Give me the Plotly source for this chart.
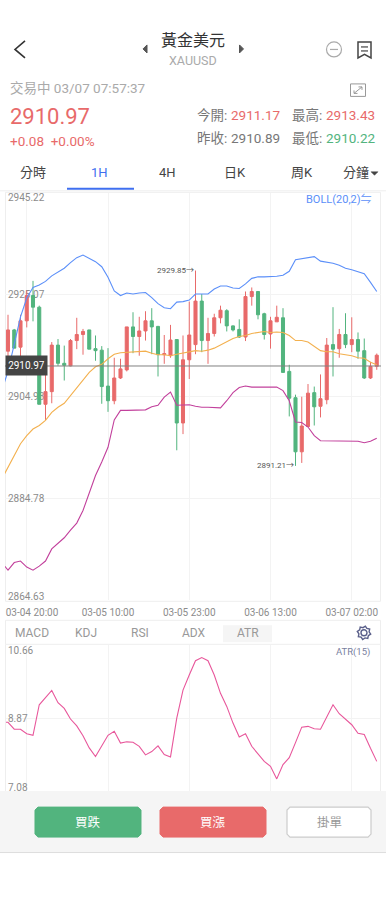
import math
import plotly.graph_objects as go

W, H = 386, 900
FONT = "Roboto, 'Noto Sans CJK TC', sans-serif"
RED, GREEN, BLUE = "#e86a6a", "#52b47e", "#3f6ff0"

candle_idx = list(range(60))
band_idx = list(range(-1, 60))
opens = [2913.9,2918.1,2914.7,2919.9,2924.9,2922.6,2903.4,2905.9,2915.1,2911.5,
         2911.0,2916.0,2917.2,2918.1,2914.4,2914.1,2907.0,2904.1,2908.6,2910.2,
         2918.7,2916.8,2917.9,2919.9,2918.8,2913.2,2913.0,2916.2,2899.7,2912.2,
         2915.2,2923.8,2916.0,2917.4,2920.5,2921.9,2918.9,2918.2,2916.7,2924.7,
         2925.7,2921.3,2917.3,2919.7,2920.5,2909.9,2904.7,2894.0,2899.0,2905.7,
         2903.0,2904.3,2915.2,2914.4,2917.2,2915.2,2916.2,2914.0,2908.6,2910.9]
highs = [2921.1,2918.3,2921.1,2925.9,2927.8,2922.9,2912.0,2915.7,2916.3,2915.0,
         2916.3,2920.5,2918.3,2918.1,2917.0,2914.9,2914.5,2912.6,2912.4,2918.7,
         2921.6,2920.7,2921.8,2922.4,2918.9,2917.1,2919.1,2916.3,2917.0,2923.7,
         2929.85,2925.2,2920.5,2921.3,2922.9,2922.2,2919.0,2920.2,2925.7,2926.5,
         2925.7,2921.5,2920.7,2922.9,2922.4,2911.2,2905.3,2904.9,2907.4,2906.9,
         2909.3,2916.5,2922.6,2918.3,2921.4,2920.6,2917.6,2916.4,2911.8,2913.43]
lows = [2912.6,2914.5,2912.7,2918.6,2919.8,2903.4,2900.3,2903.6,2911.0,2908.1,
        2910.9,2914.3,2913.2,2914.3,2912.0,2903.5,2901.9,2903.4,2908.4,2909.9,
        2913.5,2913.0,2916.0,2913.3,2908.9,2911.4,2912.6,2894.3,2897.5,2908.4,
        2913.3,2913.7,2911.4,2916.8,2919.4,2917.8,2917.8,2916.5,2915.9,2922.9,
        2920.2,2916.2,2914.4,2919.7,2909.7,2901.0,2891.21,2891.8,2899.0,2899.2,
        2900.8,2903.4,2908.9,2912.6,2914.5,2913.7,2912.4,2908.4,2908.4,2910.22]
closes = [2918.1,2914.5,2919.9,2924.9,2922.6,2903.4,2905.9,2915.1,2911.5,2911.1,
          2916.0,2917.2,2917.8,2914.3,2914.0,2906.9,2904.1,2908.6,2910.4,2918.7,
          2916.8,2917.9,2919.9,2918.7,2913.2,2913.4,2916.1,2899.7,2912.2,2917.1,
          2923.8,2916.0,2917.4,2920.5,2922.0,2918.9,2918.1,2916.7,2924.7,2925.7,
          2921.1,2917.2,2919.9,2920.6,2909.7,2904.6,2894.0,2899.1,2905.6,2902.9,
          2904.5,2915.1,2914.3,2917.2,2915.2,2916.2,2913.9,2908.6,2910.9,2913.1]
boll_upper = [2906.1,2909.9,2915.3,2920.7,2924.4,2926.5,2927.0,2927.7,2928.8,2929.6,2930.3,
              2931.4,2932.4,2932.9,2932.3,2931.6,2930.6,2928.5,2925.8,2924.9,2925.4,
              2925.2,2925.4,2925.5,2924.5,2923.3,2922.5,2922.3,2923.6,2923.7,2924.0,
              2925.2,2925.2,2925.2,2926.2,2926.8,2926.8,2926.4,2926.3,2927.2,2928.3,
              2928.6,2928.6,2928.6,2928.7,2928.9,2929.7,2932.0,2932.2,2932.4,2932.6,
              2931.7,2931.5,2931.3,2930.9,2930.3,2930.0,2929.6,2929.2,2927.5,2925.7]
boll_mid = [2888.6,2890.9,2893.2,2895.6,2897.2,2898.5,2899.2,2900.2,2901.8,2902.8,2903.6,
            2905.1,2906.6,2908.2,2909.7,2910.8,2911.3,2912.4,2913.3,2913.6,2913.7,
            2913.8,2913.9,2913.9,2913.5,2913.2,2913.2,2913.0,2913.3,2913.5,2913.7,
            2914.0,2913.9,2914.1,2914.5,2915.1,2915.7,2916.4,2916.8,2917.0,2917.4,
            2917.6,2917.8,2917.6,2917.7,2917.6,2917.0,2916.0,2916.0,2915.7,2914.9,
            2914.0,2913.8,2913.8,2913.4,2913.2,2913.0,2912.6,2912.5,2911.7,2911.2]
boll_lower = [2872.1,2870.6,2872.1,2872.4,2871.2,2870.6,2871.4,2872.4,2874.8,2876.0,2877.0,
              2878.5,2879.9,2882.4,2886.0,2889.3,2892.0,2894.9,2900.3,2902.2,2902.2,
              2902.2,2902.2,2902.3,2902.9,2903.2,2904.8,2905.8,2903.2,2903.2,2903.3,
              2903.0,2902.8,2902.8,2902.8,2902.7,2904.1,2905.7,2906.7,2907.0,2906.8,
              2906.8,2906.8,2906.8,2906.8,2906.1,2904.1,2899.9,2899.8,2898.9,2897.2,
              2896.2,2896.2,2896.1,2896.2,2896.2,2896.2,2896.1,2895.8,2896.1,2896.7]
atr_values = [8.77,8.77,8.60,8.60,8.49,8.45,9.20,9.37,9.55,9.25,9.11,
              8.85,8.68,8.44,8.14,7.93,8.18,8.45,8.55,8.26,8.29,
              8.28,8.18,7.97,8.05,8.19,7.98,7.92,8.87,9.56,9.93,
              10.28,10.36,10.28,9.93,9.48,9.16,8.75,8.41,8.49,8.18,
              7.98,7.81,7.69,7.38,7.73,7.90,8.27,8.65,8.67,8.61,
              8.60,8.91,9.20,8.98,8.85,8.71,8.50,8.47,8.13,7.81]

price_ticks = [2945.22, 2925.07, 2904.93, 2884.78, 2864.63]
atr_ticks = [10.66, 8.87, 7.08]
time_labels = ["03-04 20:00", "03-05 10:00", "03-05 23:00", "03-06 13:00", "03-07 02:00"]
time_idx = [3, 16, 29, 42, 55]
last_price = 2910.97
peak_high, peak_idx = 2929.85, 30
trough_low, trough_idx = 2891.21, 46

def px(x): return x / W
def py(y): return 1 - y / H
def path(*cmds):
    out = []
    for c in cmds:
        if isinstance(c, str):
            out.append(c)
        else:
            out.append(f"{px(c[0]):.5f},{py(c[1]):.5f}")
    return " ".join(out)

shapes, annots = [], []

def rect(x0, y0, x1, y1, fill=None, line=None, lw=1, layer="below"):
    shapes.append(dict(type="rect", xref="paper", yref="paper", x0=px(x0), x1=px(x1), y0=py(y0), y1=py(y1),
                       fillcolor=fill or "rgba(0,0,0,0)", line=dict(color=line or "rgba(0,0,0,0)", width=lw if line else 0), layer=layer))

def rrect(x0, y0, x1, y1, r, fill, line=None, lw=1):
    k = r
    d = path("M", (x0+k, y0), "L", (x1-k, y0), "L", (x1, y0+k), "L", (x1, y1-k), "L", (x1-k, y1), "L", (x0+k, y1), "L", (x0, y1-k), "L", (x0, y0+k), "Z")
    shapes.append(dict(type="path", xref="paper", yref="paper", path=d, fillcolor=fill,
                       line=dict(color=line or fill, width=lw), layer="above"))

def poly(points, color, lw=1.5, fill=None, close=False):
    cmds = ["M", points[0]]
    for p in points[1:]:
        cmds += ["L", p]
    if close:
        cmds.append("Z")
    shapes.append(dict(type="path", xref="paper", yref="paper", path=path(*cmds),
                       fillcolor=fill or "rgba(0,0,0,0)", line=dict(color=color, width=lw), layer="above"))

def circle(cx, cy, r, color, lw=1.2):
    shapes.append(dict(type="circle", xref="paper", yref="paper", x0=px(cx-r), x1=px(cx+r), y0=py(cy+r), y1=py(cy-r),
                       line=dict(color=color, width=lw), layer="above"))

def txt(x, y, s, size, color, anchor="center"):
    annots.append(dict(xref="paper", yref="paper", x=px(x), y=py(y), text=s, showarrow=False, xanchor=anchor, yanchor="middle",
                       font=dict(size=size, color=color, family=FONT), borderpad=0, borderwidth=0))

# Backgrounds and frames
rect(0, 791, 386, 852, fill="#f5f5f5")
shapes.append(dict(type="line", xref="paper", yref="paper", x0=0, x1=1, y0=py(852.5), y1=py(852.5), line=dict(color="#dddddd", width=1)))
shapes.append(dict(type="line", xref="paper", yref="paper", x0=0, x1=1, y0=py(190), y1=py(190), line=dict(color="#eeeeee", width=1)))
rect(5.5, 191.5, 380.5, 601, line="#eeeeee")
rect(5.5, 620, 380.5, 644, line="#eeeeee")
shapes.append(dict(type="line", xref="paper", yref="paper", x0=px(5.5), x1=px(5.5), y0=py(644), y1=py(791), line=dict(color="#eeeeee", width=1)))
shapes.append(dict(type="line", xref="paper", yref="paper", x0=px(380.5), x1=px(380.5), y0=py(644), y1=py(791), line=dict(color="#eeeeee", width=1)))
rect(223, 625, 272, 642, fill="#f5f5f5")
rect(67, 187, 134, 189, fill="#3f6ff0", layer="above")

# Header icons
poly([(25, 40), (15, 48.5), (25, 57)], "#333333", 1.6)
poly([(147, 44), (143, 48), (147, 52)], "#555555", 1, fill="#555555", close=True)
poly([(239.5, 44), (243.5, 48), (239.5, 52)], "#555555", 1, fill="#555555", close=True)
circle(334, 48.5, 7.5, "#aaaaaa")
poly([(330, 48.5), (338, 48.5)], "#aaaaaa", 1.2)
poly([(358, 41), (371, 41), (371, 57), (364.5, 53.5), (358, 57)], "#444444", 1.5, close=True)
poly([(361, 46), (368, 46)], "#444444", 1.2)
poly([(361, 50), (368, 50)], "#444444", 1.2)
rect(350.5, 83, 365.5, 95.5, line="#999999", layer="above")
poly([(354, 92.5), (362, 86)], "#999999", 1)
poly([(354, 89.5), (354, 92.5), (357.5, 92.5)], "#999999", 1)
poly([(358.5, 86), (362, 86), (362, 89)], "#999999", 1)
poly([(371, 171), (378, 171), (374.5, 174.5)], "#444444", 0.5, fill="#444444", close=True)

# Gear icon
gear = []
for k in range(16):
    a = 2 * math.pi * k / 16 + math.pi / 16
    r = 6.8 if k % 2 == 0 else 5.2
    gear.append((364 + r * math.cos(a), 632.5 + r * math.sin(a)))
poly(gear, "#5a5f8a", 1.4, close=True)
circle(364, 632.5, 3, "#5a5f8a", 1.4)

# Header text
txt(193, 40, "黃金美元", 16, "#333333")
txt(193, 60, "XAUUSD", 12.5, "#aaaaaa")
txt(10, 87, "交易中 03/07 07:57:37", 13.5, "#aaaaaa", "left")
txt(10, 116, "2910.97", 22, RED, "left")
txt(10, 140, "+0.08&nbsp;&nbsp;+0.00%", 13.5, RED, "left")
for x, y, s, c in [(197, 114, "今開:", "#777777"), (292, 114, "最高:", "#777777"),
                   (197, 137, "昨收:", "#777777"), (292, 137, "最低:", "#777777"),
                   (231, 114, "2911.17", RED), (325.5, 114, "2913.43", RED),
                   (231, 137, "2910.89", "#777777"), (325.5, 137, "2910.22", GREEN)]:
    txt(x, y, s, 13.5, c, "left")
for x, s, c in [(33, "分時", "#444444"), (100, "1H", BLUE), (167, "4H", "#444444"),
                (235, "日K", "#444444"), (302, "周K", "#444444"), (355.5, "分鐘", "#444444")]:
    txt(x, 172, s, 13, c)
txt(372, 199, "BOLL(20,2)⇋", 11, "#5b8ff9", "right")
for x, s in [(32, "MACD"), (86, "KDJ"), (140, "RSI"), (194, "ADX"), (248, "ATR")]:
    txt(x, 633, s, 12, "#999999")
txt(370, 652, "ATR(15)", 9.5, "#7a7fa0", "right")

# Buttons
rrect(35, 807, 141, 837, 3, GREEN)
rrect(160, 807, 266, 837, 3, RED)
rrect(287, 807, 371, 837, 3, "#ffffff", "#cccccc", 1.2)
txt(88, 822, "買跌", 12.5, "#ffffff")
txt(213, 822, "買漲", 12.5, "#ffffff")
txt(329, 822, "掛單", 12.5, "#999999")

# Last price line and label
shapes.append(dict(type="line", xref="paper", yref="y", x0=px(5), x1=px(381), y0=last_price, y1=last_price,
                   line=dict(color="#808080", width=1), layer="above"))
annots.append(dict(xref="paper", yref="y", x=px(5), y=last_price, text=f"{last_price:.2f}", showarrow=False,
                   xanchor="left", yanchor="middle", bgcolor="#444444", width=39, height=17, align="center",
                   font=dict(size=10, color="#ffffff", family=FONT)))
annots.append(dict(xref="x", yref="y", x=peak_idx, y=peak_high, text=f"{peak_high:.2f}→", showarrow=False,
                   xanchor="right", yanchor="middle", font=dict(size=8, color="#555555", family=FONT)))
annots.append(dict(xref="x", yref="y", x=trough_idx, y=trough_low, text=f"{trough_low:.2f}→", showarrow=False,
                   xanchor="right", yanchor="middle", font=dict(size=8, color="#555555", family=FONT)))

fig = go.Figure()
fig.add_trace(go.Candlestick(x=candle_idx, open=opens, high=highs, low=lows, close=closes,
                             increasing=dict(line=dict(color=RED, width=1), fillcolor=RED),
                             decreasing=dict(line=dict(color=GREEN, width=1), fillcolor=GREEN),
                             whiskerwidth=0, xaxis="x", yaxis="y", hoverinfo="skip"))
for vals, col in [(boll_upper, "#5b8ff9"), (boll_mid, "#f3b04e"), (boll_lower, "#c2409c")]:
    fig.add_trace(go.Scatter(x=band_idx, y=vals, mode="lines", line=dict(color=col, width=1.1),
                             xaxis="x", yaxis="y", hoverinfo="skip"))
fig.add_trace(go.Scatter(x=band_idx, y=atr_values, mode="lines", line=dict(color="#e8579b", width=1.1),
                         xaxis="x2", yaxis="y2", hoverinfo="skip"))

xrange = [-0.48, 59.68]
xminor = dict(tickmode="array", tickvals=time_idx, showgrid=True, gridcolor="#f3f3f3", gridwidth=1, ticks="")
tick_font = dict(size=10, color="#8c8c8c", family=FONT)
# the outer labels sit just inside the pane edges, the gridlines stay on the true values
price_label_pos = [2944.3, 2925.07, 2904.93, 2884.78, 2865.3]
atr_label_pos = [10.52, 8.87, 7.17]
time_label_pos = [3.84, 16, 29, 42, 55]

fig.update_layout(
    width=W, height=902, margin=dict(l=0, r=0, t=0, b=0), showlegend=False,
    paper_bgcolor="#ffffff", plot_bgcolor="rgba(0,0,0,0)", boxgap=0.3,
    font=dict(family=FONT), shapes=shapes, annotations=annots,
    xaxis=dict(domain=[px(5), px(381)], range=xrange, anchor="y", rangeslider=dict(visible=False),
               showgrid=False, zeroline=False, showline=False, ticks="", minor=xminor,
               tickmode="array", tickvals=time_label_pos, ticktext=time_labels, tickangle=0,
               tickfont=tick_font, ticklabelstandoff=5, ticklabeloverflow="allow"),
    yaxis=dict(domain=[py(600), py(192)], range=[price_ticks[-1], price_ticks[0]], anchor="x",
               showgrid=False, zeroline=False, showline=False, ticks="", layer="below traces",
               tickmode="array", tickvals=price_label_pos, ticktext=[f"{v:.2f}" for v in price_ticks],
               ticklabelposition="inside", ticklabeloverflow="allow", tickfont=tick_font,
               minor=dict(tickmode="array", tickvals=price_ticks, showgrid=True, gridcolor="#f3f3f3", ticks="")),
    xaxis2=dict(domain=[px(5), px(381)], range=xrange, anchor="y2", showgrid=False, zeroline=False,
                showticklabels=False, ticks="", minor=xminor),
    yaxis2=dict(domain=[py(791), py(645)], range=[atr_ticks[-1], atr_ticks[0]], anchor="x2",
                showgrid=False, zeroline=False, showline=False, ticks="", layer="below traces",
                tickmode="array", tickvals=atr_label_pos, ticktext=[f"{v:.2f}" for v in atr_ticks],
                ticklabelposition="inside", ticklabeloverflow="allow", tickfont=tick_font,
                minor=dict(tickmode="array", tickvals=atr_ticks, showgrid=True, gridcolor="#f3f3f3", ticks="")),
)

fig.write_html("out.html", config={"displayModeBar": False, "responsive": False},
               post_script="document.body.style.margin='0';document.body.style.overflow='hidden';")
